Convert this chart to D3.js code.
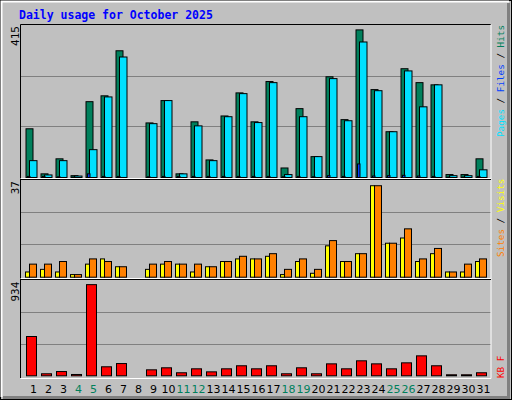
<!DOCTYPE html>
<html>
<head>
<meta charset="utf-8">
<script src="https://cdn.jsdelivr.net/npm/d3@7"></script>
<style>
  body { margin: 0; background: #c0c0c0; }
  svg { display: block; }
</style>
</head>
<body>
<div id="chart"></div>
<script>
// daily values
const days = d3.range(1, 32);
const weekend = [4, 5, 11, 12, 18, 19, 25, 26];
const hits = [133, 10, 51, 5, 207, 223, 346, 0, 149, 210, 10, 152, 48, 168, 231, 152,
  262, 26, 188, 57, 275, 158, 403, 240, 125, 297, 259, 253, 8, 8, 51];
const files = [46, 7, 46, 4, 76, 220, 329, 0, 147, 210, 10, 141, 46, 166, 229, 150,
  259, 8, 166, 57, 270, 155, 370, 237, 125, 291, 193, 253, 5, 5, 21];
const pages = [3, 3, 2, 1, 10, 3, 3, 0, 2, 3, 3, 3, 3, 3, 3, 3,
  3, 2, 3, 2, 5, 3, 37, 4, 5, 6, 4, 3, 1, 1, 3];
const sites = [2, 3, 2, 1, 5, 7, 4, 0, 3, 5, 5, 2, 4, 6, 7, 7,
  8, 1, 6, 1.5, 12, 6, 9, 35, 13, 15, 6, 9, 2, 2, 6];
const visits = [5, 5, 6, 1, 7, 6, 4, 0, 5, 6, 5, 5, 4, 6, 8, 7,
  9, 3, 7, 3, 14, 6, 9, 35, 13, 18.5, 7, 11, 2, 5, 7];
const kbytes = [388, 20, 42, 13, 900, 89, 121, 0, 59, 79, 30, 69, 39, 69, 99, 69,
  99, 20, 79, 20, 118, 69, 148, 118, 69, 128, 197, 99, 10, 10, 30];
const maxLabels = ['415', '37', '934'];

const width = 512;
const height = 400;
const mono = 'DejaVu Sans Mono, monospace';

const svg = d3.select('#chart').append('svg')
  .attr('width', width).attr('height', height);

// frame
svg.append('rect').attr('width', width).attr('height', height).attr('fill', '#c0c0c0');
svg.append('rect').attr('x', 0.5).attr('y', 0.5).attr('width', width - 1).attr('height', height - 1)
  .attr('fill', 'none').attr('stroke', '#000');
svg.append('path').attr('d', 'M1.5,397V1.5H509').attr('fill', 'none').attr('stroke', '#fff').attr('stroke-width', 2);
svg.append('path').attr('d', 'M3,397.5H508.5V3').attr('fill', 'none').attr('stroke', '#808080').attr('stroke-width', 3);

svg.append('text').attr('x', 19).attr('y', 19)
  .attr('font-family', mono).attr('font-size', 11.5).attr('font-weight', 'bold')
  .attr('fill', '#0000ff').text('Daily usage for October 2025');

const x = d3.scaleBand().domain(days).range([25, 490]);
const left = 20.5;
const right = 491;

const panels = [
  { top: 25, bottom: 177, max: 415 },
  { top: 180, bottom: 276.7, max: 37 },
  { top: 280.7, bottom: 375.3, max: 934 },
];

panels.forEach((p, i) => {
  p.y = d3.scaleLinear().domain([0, p.max]).range([p.bottom, p.top]);
  const g = svg.append('g');
  // gridlines
  [1, 2].forEach((k) => {
    const gy = Math.round(p.bottom - (p.bottom - p.top) * k / 3) + 0.5;
    g.append('line').attr('x1', left).attr('x2', right).attr('y1', gy).attr('y2', gy)
      .attr('stroke', '#808080');
  });
  // max label
  g.append('text')
    .attr('transform', `translate(19,${p.top + 1}) rotate(-90)`)
    .attr('text-anchor', 'end').attr('font-family', mono).attr('font-size', 11)
    .attr('fill', '#000').text(maxLabels[i]);
});

// panel borders
const pb = d3.path();
svg.append('path').attr('d', `M${left},378V24.5H${right}`).attr('fill', 'none').attr('stroke', '#000');
svg.append('path').attr('d', `M${left},378.5H${right}V24.5`).attr('fill', 'none').attr('stroke', '#fff');
[178.5, 278.5].forEach((yy) => {
  svg.append('line').attr('x1', left).attr('x2', right).attr('y1', yy).attr('y2', yy).attr('stroke', '#fff');
  svg.append('line').attr('x1', left).attr('x2', right).attr('y1', yy + 1).attr('y2', yy + 1).attr('stroke', '#000');
});

function bars(values, panel, dx, w, color) {
  const y = panels[panel].y;
  svg.append('g').selectAll('rect').data(values).enter().append('rect')
    .attr('x', (d, i) => x(days[i]) + dx + 0.5)
    .attr('y', (d) => y(d) + 0.5)
    .attr('width', w)
    .attr('height', (d) => Math.max(0, y(0) - y(d)))
    .attr('fill', color)
    .attr('stroke', '#000')
    .attr('display', (d) => (d > 0 ? null : 'none'));
}

bars(hits, 0, 0.5, 7, '#00805c');
bars(files, 0, 4, 7.5, '#00e0ff');
bars(pages, 0, 2, 2.5, '#0040ff');
bars(sites, 1, 0, 4, '#ffff00');
bars(visits, 1, 4, 7, '#ff8000');
bars(kbytes, 2, 1, 10, '#ff0000');

// day labels
svg.append('g').selectAll('text').data(days).enter().append('text')
  .attr('x', (d) => x(d) + x.bandwidth() / 2 + 1)
  .attr('y', 393)
  .attr('text-anchor', 'middle')
  .attr('font-family', 'DejaVu Sans, sans-serif').attr('font-size', 11)
  .attr('fill', (d) => (weekend.includes(d) ? '#00805c' : '#000'))
  .text((d) => d);

// side legends, rotated
function legend(parts, yBottom) {
  const t = svg.append('text')
    .attr('transform', `translate(504,${yBottom}) rotate(-90)`)
    .attr('font-family', mono).attr('font-size', 9.3);
  parts.forEach(([s, c]) => t.append('tspan').attr('fill', c).text(s));
}
legend([['Pages', '#00e0ff'], [' / ', '#000'], ['Files', '#0040ff'], [' / ', '#000'], ['Hits', '#00805c']], 137);
legend([['Sites', '#ff8000'], [' / ', '#000'], ['Visits', '#ffff00']], 257);
legend([['KB F', '#ff0000']], 378);
</script>
</body>
</html>
